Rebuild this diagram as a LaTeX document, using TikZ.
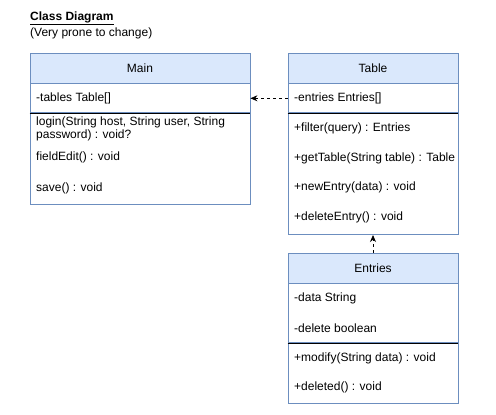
\documentclass[tikz,border=0pt]{standalone}
\usepackage{fontspec}
\setmainfont{Liberation Sans}
\usepackage{xcolor}
\usetikzlibrary{positioning, arrows.meta}

\definecolor{hdrfill}{HTML}{DAE8FC}
\definecolor{hdrline}{HTML}{6C8EBF}

\begin{document}
\begin{tikzpicture}[x=1pt, y=-1pt, font=\fontsize{12}{13}\selectfont,
    hdr/.style={draw=hdrline, fill=hdrfill, line width=0.8pt, minimum height=30pt, inner sep=0pt},
    part/.style={draw=hdrline, fill=white, line width=0.8pt, inner sep=0pt},
    item/.style={anchor=west, inner sep=0pt, align=left},
    dep/.style={line width=0.8pt, dash pattern=on 3pt off 3pt, -{Stealth[length=7pt, width=6pt]}}]
        \useasboundingbox (0,0) rectangle (496,415);

        % Title
        \node[item] (title) at (30,18) {\textbf{\underline{Class Diagram}}};
        \node[item] (note) at (30,33) {(Very prone to change)};

        % Main class
        \node[hdr, minimum width=220pt] (main) at (140,68) {Main};
        \node[part, minimum width=220pt, minimum height=29pt, below=0pt of main] (mainattr) {};
        \node[part, minimum width=220pt, minimum height=91pt, below=0pt of mainattr] (mainops) {};
        \draw[line width=0.8pt] (mainattr.south west) -- (mainattr.south east);
        \node[item] (mtables) at (36,98) {-tables Table[]};
        \node[item] (mlogin) at (36,129) {login(String host, String user, String\\password) : void?};
        \node[item] (medit) at (36,157) {fieldEdit() : void};
        \node[item] (msave) at (36,188) {save() : void};

        % Table class
        \node[hdr, minimum width=170pt] (table) at (373,68) {Table};
        \node[part, minimum width=170pt, minimum height=29pt, below=0pt of table] (tableattr) {};
        \node[part, minimum width=170pt, minimum height=121pt, below=0pt of tableattr] (tableops) {};
        \draw[line width=0.8pt] (tableattr.south west) -- (tableattr.south east);
        \node[item] (tentries) at (294,98) {-entries Entries[]};
        \node[item] (tfilter) at (294,128) {+filter(query) : Entries};
        \node[item] (tget) at (294,158) {+getTable(String table) : Table};
        \node[item] (tnew) at (294,187) {+newEntry(data) : void};
        \node[item] (tdelete) at (294,217) {+deleteEntry() : void};

        % Entries class
        \node[hdr, minimum width=170pt] (entries) at (373,268) {Entries};
        \node[part, minimum width=170pt, minimum height=59pt, below=0pt of entries] (entattr) {};
        \node[part, minimum width=170pt, minimum height=60pt, below=0pt of entattr] (entops) {};
        \draw[line width=0.8pt] (entattr.south west) -- (entattr.south east);
        \node[item] (edata) at (294,298) {-data String};
        \node[item] (edel) at (294,328) {-delete boolean};
        \node[item] (emodify) at (294,358) {+modify(String data) : void};
        \node[item] (edeleted) at (294,387) {+deleted() : void};

        % Dependencies
        \draw[dep] (tableattr.west) -- (mainattr.east);
        \draw[dep] (entries.north) -- (tableops.south);
      \end{tikzpicture}
\end{document}
